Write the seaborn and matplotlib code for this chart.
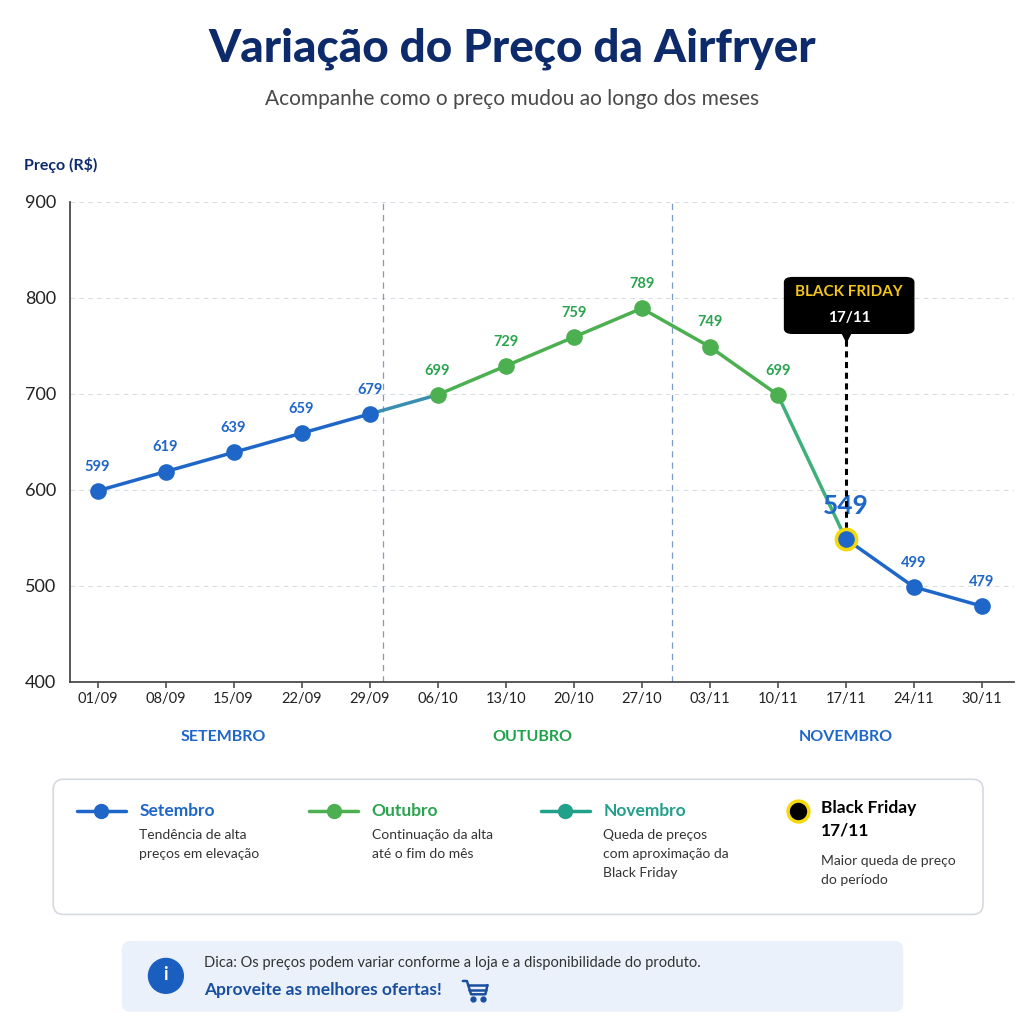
import matplotlib.pyplot as plt
import seaborn as sns
import pandas as pd
from matplotlib.patches import FancyBboxPatch, Circle
from matplotlib.lines import Line2D

datas = ['01/09', '08/09', '15/09', '22/09', '29/09', '06/10', '13/10', '20/10', '27/10',
         '03/11', '10/11', '17/11', '24/11', '30/11']
precos = [599, 619, 639, 659, 679, 699, 729, 759, 789, 749, 699, 549, 499, 479]
meses = ['SETEMBRO', 'OUTUBRO', 'NOVEMBRO']

AZUL = '#1f66c9'
VERDE = '#4caf50'
TEAL = '#21a08a'
NAVY = '#0d2a6b'

sns.set_theme(style='white')
plt.rcParams['font.family'] = ['Lato', 'DejaVu Sans']

df = pd.DataFrame({'x': range(len(datas)), 'preco': precos})

fig = plt.figure(figsize=(10.24, 10.24), dpi=100)
ax = fig.add_axes([0.068, 0.334, 0.922, 0.469])

segs = [(0, 5, AZUL), (5, 11, VERDE), (10, 12, '#3fb07a'), (11, 14, AZUL)]
for a, b, c in segs:
    sns.lineplot(data=df.iloc[a:b], x='x', y='preco', color=c, lw=2.5, ax=ax)
sns.lineplot(data=df.iloc[4:6], x='x', y='preco', color='#3a8fb0', lw=2.5, ax=ax)

cores = [AZUL] * 5 + [VERDE] * 4 + [VERDE, VERDE, AZUL, AZUL, AZUL]
for i, (p, c) in enumerate(zip(precos, cores)):
    if i == 11:
        ax.scatter(i, p, s=260, color='#f5d90a', zorder=4)
        ax.scatter(i, p, s=120, color=AZUL, zorder=5)
        ax.text(i, p + 22, str(p), ha='center', va='bottom', fontsize=19,
                color=AZUL, fontweight='bold')
        continue
    ax.scatter(i, p, s=120, color=c, zorder=5)
    tc = '#2ba34f' if c == VERDE else AZUL
    ax.text(i, p + 18, str(p), ha='center', va='bottom', fontsize=10.5,
            color=tc, fontweight='bold')

for xv in (4.2, 8.45):
    ax.plot([xv, xv], [400, 900], color='#7a9cc6', lw=0.9, ls=(0, (5, 4)), zorder=1)

# Black Friday
ax.plot([11, 11], [560, 760], color='black', lw=2.2, ls=(0, (2, 1.5)), zorder=3)
box = FancyBboxPatch((10.1, 763), 1.9, 58, boxstyle='round,pad=0,rounding_size=0.12',
                     color='black', zorder=6, mutation_aspect=40)
ax.add_patch(box)
ax.text(11.05, 806, 'BLACK FRIDAY', ha='center', va='center', color='#f5c518',
        fontsize=11, fontweight='bold', zorder=7)
ax.text(11.05, 779, '17/11', ha='center', va='center', color='white',
        fontsize=11, fontweight='bold', zorder=7)
ax.scatter(11, 760, marker='v', s=60, color='black', zorder=6)

ax.set_xlim(-0.41, 13.47)
ax.set_ylim(400, 900)
ax.set_yticks([400, 500, 600, 700, 800, 900])
ax.set_xticks(range(len(datas)))
ax.set_xticklabels(datas, fontsize=10.5, color='#222222')
ax.tick_params(axis='y', labelsize=13, colors='#222222')
ax.tick_params(axis='x', length=4, color='#555555', bottom=True)
ax.yaxis.grid(True, color='#d8dde6', ls=(0, (4, 4)), lw=0.8)
ax.set_xlabel('')
ax.set_ylabel('')
for s in ['top', 'right']:
    ax.spines[s].set_visible(False)
for s in ['left', 'bottom']:
    ax.spines[s].set_color('#444444')

for xm, m, c in zip([1.85, 6.4, 11.0], meses, [AZUL, '#1fa34a', AZUL]):
    ax.text(xm, 343, m, ha='center', va='center', fontsize=11.5, color=c, fontweight='bold')

fig.text(0.5, 0.952, 'Variação do Preço da Airfryer', ha='center', va='center',
         fontsize=33, fontweight='black', color=NAVY)
fig.text(0.5, 0.903, 'Acompanhe como o preço mudou ao longo dos meses', ha='center',
         va='center', fontsize=15, color='#4a4a4a')
fig.text(0.023, 0.839, 'Preço (R$)', fontsize=11.5, fontweight='bold', color=NAVY, va='center')

# legend box
fig.patches.append(FancyBboxPatch((0.052, 0.107), 0.908, 0.132,
                                  boxstyle='round,pad=0,rounding_size=0.01',
                                  transform=fig.transFigure, facecolor='white',
                                  edgecolor='#d5d9e0', lw=1.2))
itens = [(0.075, AZUL, AZUL, 'Setembro', 'Tendência de alta\npreços em elevação'),
         (0.302, VERDE, '#2ba34f', 'Outubro', 'Continuação da alta\naté o fim do mês'),
         (0.528, TEAL, TEAL, 'Novembro', 'Queda de preços\ncom aproximação da\nBlack Friday')]
for x0, c, tc, t, d in itens:
    fig.lines.append(Line2D([x0, x0 + 0.048], [0.208, 0.208], color=c, lw=2.5,
                            transform=fig.transFigure))
    fig.lines.append(Line2D([x0 + 0.024], [0.208], marker='o', ms=10, color=c,
                            transform=fig.transFigure))
    fig.text(x0 + 0.061, 0.208, t, fontsize=12.5, fontweight='bold', color=tc, va='center')
    fig.text(x0 + 0.061, 0.190, d, fontsize=10, color='#333333', va='top', linespacing=1.7)
fig.lines.append(Line2D([0.779], [0.208], marker='o', ms=15, color='black', mec='#f5d90a',
                        mew=2.5, transform=fig.transFigure))
fig.text(0.802, 0.219, 'Black Friday\n17/11', fontsize=12.5, fontweight='bold',
         color='black', va='top', linespacing=1.5)
fig.text(0.802, 0.165, 'Maior queda de preço\ndo período', fontsize=10, color='#333333',
         va='top', linespacing=1.7)

# tip box
fig.patches.append(FancyBboxPatch((0.119, 0.012), 0.763, 0.069,
                                  boxstyle='round,pad=0,rounding_size=0.008',
                                  transform=fig.transFigure, facecolor='#eaf1fb',
                                  edgecolor='none'))
fig.patches.append(Circle((0.162, 0.047), 0.017, transform=fig.transFigure, color='#1a5fc0'))
fig.text(0.162, 0.048, 'i', ha='center', va='center', color='white', fontsize=13,
         fontweight='bold')
fig.text(0.199, 0.060, 'Dica: Os preços podem variar conforme a loja e a disponibilidade do produto.',
         fontsize=10.5, color='#333333', va='center')
fig.text(0.199, 0.033, 'Aproveite as melhores ofertas!', fontsize=12.5,
         fontweight='bold', color='#1a4fa0', va='center')

# small cart icon (drawn as a shape)
cx, cy = 0.462, 0.033
cart = [([cx - 0.010, cx - 0.006, cx - 0.002, cx + 0.012, cx + 0.014],
         [cy + 0.009, cy + 0.009, cy - 0.004, cy - 0.004, cy + 0.005]),
        ([cx - 0.005, cx + 0.014], [cy + 0.005, cy + 0.005]),
        ([cx - 0.004, cx + 0.013], [cy + 0.0005, cy + 0.0005])]
for xs, ys in cart:
    fig.lines.append(Line2D(xs, ys, color='#1a4fa0', lw=1.8, transform=fig.transFigure))
for wx in (cx, cx + 0.010):
    fig.lines.append(Line2D([wx], [cy - 0.009], marker='o', ms=3.5, color='#1a4fa0',
                            transform=fig.transFigure))

fig.savefig('out.png', dpi=100, facecolor='white')
